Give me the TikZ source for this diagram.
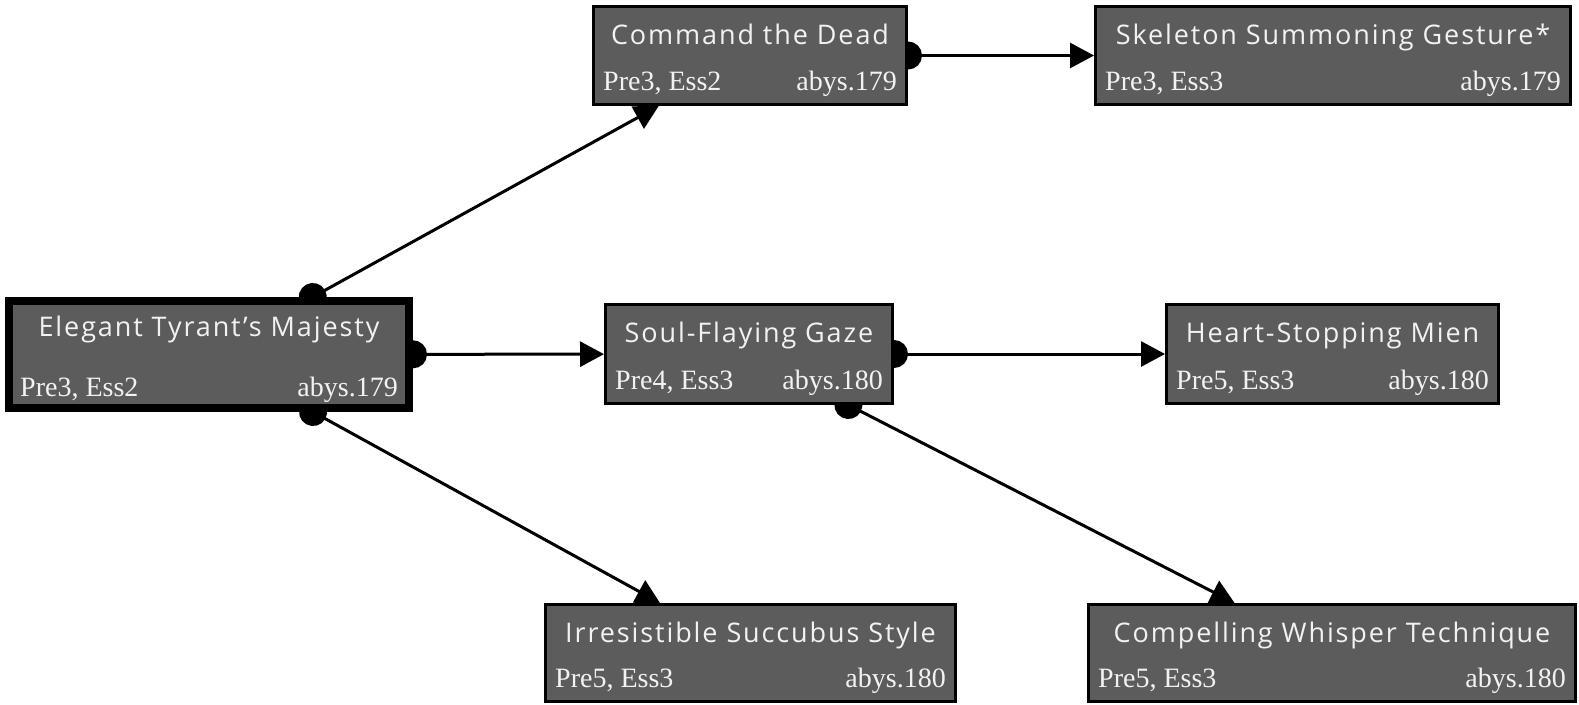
\documentclass[tikz,border=0pt]{standalone}
\usepackage{fontspec}
\setmainfont{Liberation Serif}
\newfontfamily\titlefont[LetterSpace=7]{Open Sans}
\usetikzlibrary{arrows.meta}
\definecolor{boxgray}{HTML}{5B5C5B}
\definecolor{boxtext}{HTML}{F2F2F2}
\pgfdeclarelayer{bg}
\pgfsetlayers{bg,main}
\tikzset{
  skill/.style={draw=black, line width=3pt, fill=boxgray, inner sep=0pt},
  root/.style={skill, line width=8pt},
  ttl/.style={text=boxtext, font=\titlefont\fontsize{27}{27}\selectfont, inner sep=0pt, anchor=base},
  stat/.style={text=boxtext, font=\fontsize{28}{28}\selectfont, inner sep=0pt},
  link/.style={line width=3pt, {Circle[length=28pt]}-{Triangle[length=24pt,width=25pt]}, shorten <=-14pt},
}
% side padding of the stats line, per box style
\def\padskill{11pt}
\def\padroot{15pt}
% box with title on top, stats below
\newcommand\skillbox[8][skill]{%
  \node[#1, minimum width=#4, minimum height=#5] (#2) at (#3) {};
  \node[ttl] (#2t) at ([yshift=-39pt]#2.north) {#6};
  \node[stat, anchor=base west] (#2l) at ([shift={(\csname pad#1\endcsname,16pt)}]#2.south west) {#7};
  \node[stat, anchor=base east] (#2r) at ([shift={(-\csname pad#1\endcsname,16pt)}]#2.south east) {#8};
}

\begin{document}
\begin{tikzpicture}[x=1pt,y=-1pt]
    \useasboundingbox (0,0) rectangle (1579,704);

    \skillbox[root]{ety}{209,354.5}{400pt}{107pt}{Elegant Tyrant’s Majesty}{Pre3, Ess2}{abys.179}
    \skillbox{cmd}{750,55.5}{313pt}{98pt}{Command the Dead}{Pre3, Ess2}{abys.179}
    \skillbox{sks}{1333,55.5}{475pt}{98pt}{Skeleton Summoning Gesture*}{Pre3, Ess3}{abys.179}
    \skillbox{sfg}{749,354}{287pt}{99pt}{Soul-Flaying Gaze}{Pre4, Ess3}{abys.180}
    \skillbox{hsm}{1332.5,354}{332pt}{99pt}{Heart-Stopping Mien}{Pre5, Ess3}{abys.180}
    \skillbox{iss}{750.5,653}{410pt}{97pt}{Irresistible Succubus Style}{Pre5, Ess3}{abys.180}
    \skillbox{cwt}{1332,653}{487pt}{97pt}{Compelling Whisper Technique}{Pre5, Ess3}{abys.180}

    \begin{pgfonlayer}{bg}
        \foreach \a/\b in {ety/cmd, ety/sfg, ety/iss, cmd/sks, sfg/hsm, sfg/cwt}
            \draw[link] (\a) -- (\b);
    \end{pgfonlayer}
\end{tikzpicture}
\end{document}
